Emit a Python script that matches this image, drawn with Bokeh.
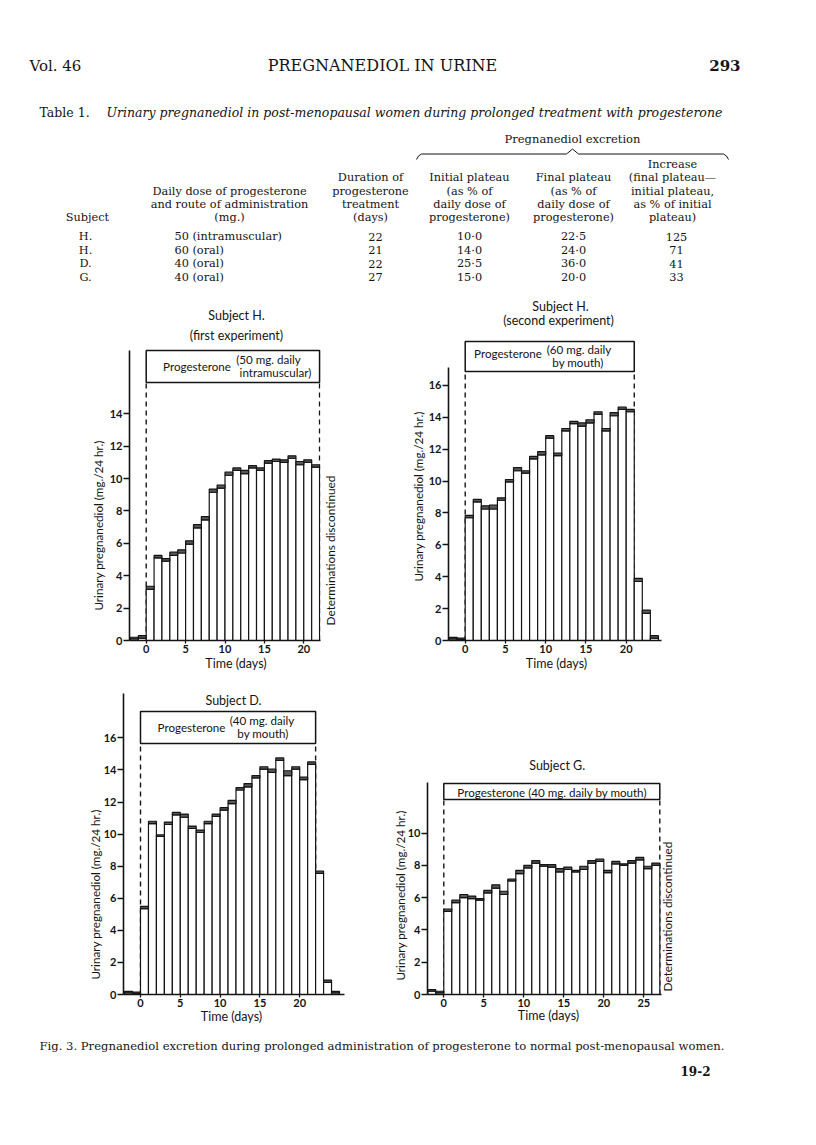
import math
from bokeh.plotting import figure
from bokeh.layouts import column, row
from bokeh.models import FixedTicker, Range1d
from bokeh.core.properties import value
from bokeh.embed import file_html
from bokeh.resources import INLINE

SERIF = "DejaVu Serif"
SANS = "Lato"
INK = "#141414"

# ---------------- Table 1 data ----------------
tbl_subject = ["H.", "H.", "D.", "G."]
tbl_dose = ["50 (intramuscular)", "60 (oral)", "40 (oral)", "40 (oral)"]
tbl_duration = ["22", "21", "22", "27"]
tbl_initial = ["10·0", "14·0", "25·5", "15·0"]
tbl_final = ["22·5", "24·0", "36·0", "20·0"]
tbl_increase = ["125", "71", "41", "33"]

hdr_subject = ["Subject"]
hdr_dose = ["Daily dose of progesterone", "and route of administration", "(mg.)"]
hdr_duration = ["Duration of", "progesterone", "treatment", "(days)"]
hdr_initial = ["Initial plateau", "(as % of", "daily dose of", "progesterone)"]
hdr_final = ["Final plateau", "(as % of", "daily dose of", "progesterone)"]
hdr_increase = ["Increase", "(final plateau\u2014", "initial plateau,", "as % of initial", "plateau)"]

# ---------------- Fig. 3 data (mg./24 hr.), duplicate determinations hi / lo ----------------
# Subject H. first experiment: days -2 .. 21
h1_start = -2
h1_hi = [0.2, 0.3, 3.35, 5.25, 5.05, 5.45, 5.6, 6.15, 7.15, 7.65, 9.35, 9.6, 10.4, 10.65,
         10.5, 10.8, 10.65, 11.1, 11.2, 11.15, 11.4, 11.05, 11.15, 10.85]
h1_lo = [0.1, 0.15, 3.15, 5.1, 4.9, 5.25, 5.4, 5.95, 6.95, 7.45, 9.15, 9.4, 10.2, 10.5,
         10.3, 10.65, 10.5, 10.95, 11.05, 11.0, 11.25, 10.85, 11.0, 10.7]
# Subject H. second experiment: days -2 .. 23
h2_start = -2
h2_hi = [0.2, 0.15, 7.85, 8.85, 8.45, 8.5, 8.95, 10.1, 10.85, 10.65, 11.55, 11.85, 12.85,
         11.75, 13.3, 13.75, 13.65, 13.85, 14.35, 13.3, 14.3, 14.65, 14.5, 3.9, 1.9, 0.3]
h2_lo = [0.1, 0.05, 7.7, 8.7, 8.25, 8.25, 8.8, 9.95, 10.65, 10.5, 11.4, 11.65, 12.7,
         11.6, 13.15, 13.6, 13.45, 13.65, 14.2, 13.15, 14.1, 14.5, 14.35, 3.7, 1.7, 0.15]
# Subject D.: days -2 .. 24
d_start = -2
d_hi = [0.2, 0.15, 5.5, 10.8, 9.95, 10.75, 11.35, 11.25, 10.5, 10.25, 10.8, 11.25, 11.65,
        12.1, 12.9, 13.15, 13.65, 14.2, 14.05, 14.75, 13.95, 14.2, 13.55, 14.5, 7.7, 0.9, 0.2]
d_lo = [0.1, 0.05, 5.35, 10.65, 9.85, 10.6, 11.2, 11.05, 10.35, 10.1, 10.65, 11.1, 11.5,
        11.9, 12.75, 12.95, 13.5, 14.05, 13.85, 14.6, 13.65, 14.05, 13.4, 14.35, 7.55, 0.75, 0.1]
# Subject G.: days -2 .. 26
g_start = -2
g_hi = [0.3, 0.2, 5.3, 5.85, 6.2, 6.1, 5.95, 6.45, 6.8, 6.4, 7.15, 7.7, 8.0, 8.3, 8.05,
        8.05, 7.8, 7.9, 7.7, 7.95, 8.3, 8.4, 7.7, 8.25, 8.1, 8.3, 8.5, 7.95, 8.15]
g_lo = [0.2, 0.1, 5.15, 5.7, 6.0, 5.95, 5.85, 6.3, 6.6, 6.2, 7.05, 7.5, 7.85, 8.15, 7.95,
        7.9, 7.6, 7.75, 7.6, 7.75, 8.15, 8.25, 7.55, 8.1, 8.0, 8.15, 8.35, 7.8, 8.0]

yticks_h1 = [0, 2, 4, 6, 8, 10, 12, 14]
yticks_h2 = [0, 2, 4, 6, 8, 10, 12, 14, 16]
yticks_d = [0, 2, 4, 6, 8, 10, 12, 14, 16]
yticks_g = [0, 2, 4, 6, 8, 10]
xticks_h1 = [0, 5, 10, 15, 20]
xticks_h2 = [0, 5, 10, 15, 20]
xticks_d = [0, 5, 10, 15, 20]
xticks_g = [0, 5, 10, 15, 20, 25]

Y_LABEL = "Urinary pregnanediol (mg./24 hr.)"
X_LABEL = "Time (days)"
DISC = "Determinations discontinued"

PAGE_W = 808


def style_blank(p):
    p.outline_line_color = None
    p.background_fill_color = "white"
    p.border_fill_color = "white"
    p.xgrid.visible = False
    p.ygrid.visible = False


def canvas(top_y, bottom_y):
    p = figure(width=PAGE_W, height=int(bottom_y - top_y), x_range=Range1d(0, PAGE_W),
               y_range=Range1d(bottom_y, top_y), x_axis_type=None, y_axis_type=None,
               toolbar_location=None, output_backend="svg", min_border=0)
    style_blank(p)
    return p


def put(p, x, y, txt, size, align="center", style="normal", font=SERIF):
    p.text(x=[x], y=[y], text=[txt], text_font=value(font), text_font_size=size,
           text_align=align, text_baseline="middle", text_font_style=style, text_color=INK)


# ---------------- page top: header and table ----------------
top = canvas(0, 296)
put(top, 29, 65, "Vol. 46", "15px", align="left")
put(top, 382, 65, "PREGNANEDIOL IN URINE", "16px")
put(top, 740, 65, "293", "15px", align="right", style="bold")
put(top, 39, 112, "Table 1.", "12.5px", align="left")
put(top, 106, 112, "Urinary pregnanediol in post-menopausal women during prolonged treatment with progesterone",
    "12.5px", align="left", style="italic")
put(top, 572, 138, "Pregnanediol excretion", "11.5px")
top.line(x=[416, 418, 421, 566, 572, 578, 723, 726, 728],
         y=[159, 155.5, 153.5, 153.5, 148.5, 153.5, 153.5, 155.5, 159], line_color=INK, line_width=1)

HS = "11.3px"
line_y = [164, 177.3, 190.6, 203.9, 217.2]
for i, t in enumerate(hdr_increase):
    put(top, 672, line_y[i], t, HS)
for i, t in enumerate(hdr_initial):
    put(top, 469, line_y[i + 1], t, HS)
for i, t in enumerate(hdr_final):
    put(top, 573, line_y[i + 1], t, HS)
for i, t in enumerate(hdr_duration):
    put(top, 370, line_y[i + 1], t, HS)
for i, t in enumerate(hdr_dose):
    put(top, 229, line_y[i + 2], t, HS)
put(top, 87, line_y[4], hdr_subject[0], HS)

row_y = [236, 249.5, 263, 276.5]
for i in range(4):
    put(top, 85, row_y[i], tbl_subject[i], HS)
    put(top, 174, row_y[i], tbl_dose[i], HS, align="left")
    put(top, 375, row_y[i], tbl_duration[i], HS)
    put(top, 469, row_y[i], tbl_initial[i], HS)
    put(top, 573, row_y[i], tbl_final[i], HS)
    put(top, 676, row_y[i], tbl_increase[i], HS)


# ---------------- charts ----------------
def make_chart(yticks, xticks, xgeom, ygeom, fig_left, fig_w, vrow, axis_top_px):
    x0, ppd, xs, xe = xgeom
    y0, ppu = ygeom
    fig_top, frame_top, frame_bot, fig_bot = vrow
    frame_w = int(round((xe - xs) * ppd))
    frame_h = frame_bot - frame_top
    mbl = int(round(x0 + xs * ppd - fig_left))
    mbr = fig_w - mbl - frame_w
    xs_a = (fig_left + mbl - x0) / ppd
    xe_a = xs_a + frame_w / ppd
    p = figure(frame_width=frame_w, frame_height=frame_h,
               x_range=Range1d(xs_a, xe_a), y_range=Range1d(0, frame_h / ppu),
               min_border_left=mbl, min_border_right=mbr,
               min_border_top=frame_top - fig_top, min_border_bottom=fig_bot - frame_bot,
               toolbar_location=None, output_backend="svg")
    style_blank(p)
    for ax in (p.xaxis[0], p.yaxis[0]):
        ax.axis_line_width = 1.6
        ax.axis_line_color = INK
        ax.major_tick_line_color = INK
        ax.major_tick_line_width = 1.3
        ax.minor_tick_line_color = None
        ax.major_tick_in = 0
        ax.major_label_text_font = SANS
        ax.major_label_text_font_style = "bold"
        ax.major_label_text_font_size = "11px"
        ax.major_label_text_color = INK
    p.yaxis[0].ticker = FixedTicker(ticks=yticks)
    p.xaxis[0].ticker = FixedTicker(ticks=xticks)
    p.yaxis[0].major_tick_out = 6
    p.yaxis[0].major_label_standoff = 1
    p.xaxis[0].major_tick_out = 3
    p.xaxis[0].major_label_standoff = 1
    p.yaxis[0].axis_line_color = None

    px2x = lambda px: (px - x0) / ppd
    px2y = lambda py: (frame_bot - py) / ppu
    # y axis line, only as tall as in the original
    p.segment(x0=[xs_a], y0=[0], x1=[xs_a], y1=[px2y(axis_top_px)], line_color=INK,
              line_width=1.6, level="overlay")
    return p, px2x, px2y


def draw_bars(p, hi, lo, start):
    days = [start + i for i in range(len(hi))]
    p.quad(left=days, right=[d + 1 for d in days], bottom=[0] * len(days), top=lo,
           fill_color="white", line_color=INK, line_width=1.2)
    p.quad(left=days, right=[d + 1 for d in days], bottom=lo, top=hi,
           fill_color="#5a5a5a", line_color=INK, line_width=1.2)


def progesterone_box(p, duration, y_bot, y_top):
    p.segment(x0=[0, duration], y0=[0, 0], x1=[0, duration], y1=[y_bot, y_bot],
              line_color=INK, line_width=1.4, line_dash="5 4")
    p.quad(left=[0], right=[duration], bottom=[y_bot], top=[y_top], fill_color="white",
           line_color=INK, line_width=1.5, level="overlay")


def lab(p, x, y, txt, size="12.5px", angle=0.0, style="normal"):
    p.text(x=[x], y=[y], text=[txt], angle=angle, text_font=value(SANS), text_font_size=size,
           text_align="center", text_baseline="middle", text_color=INK, text_font_style=style,
           level="overlay")


ROW1 = (296, 350, 640, 680)
ROW2 = (680, 693, 994, 1033)
BOX = "11.6px"
YL = "11.7px"

# Chart 1: Subject H. (first experiment)
dur1 = int(tbl_duration[0])
c1, fx, fy = make_chart(yticks_h1, xticks_h1, (145.7, 7.88, -2.08, 22.15), (640, 16.2),
                        0, 372, ROW1, 350)
progesterone_box(c1, dur1, fy(382), fy(350))
draw_bars(c1, h1_hi, h1_lo, h1_start)
lab(c1, fx(236), fy(315), "Subject H.")
lab(c1, fx(236), fy(335), "(first experiment)")
lab(c1, fx(196.5), fy(365.5), "Progesterone", BOX)
lab(c1, fx(268), fy(358.5), "(50 mg. daily", BOX)
lab(c1, fx(275), fy(372), "intramuscular)", BOX)
lab(c1, fx(97), fy(525), Y_LABEL, YL, angle=math.pi / 2)
lab(c1, fx(235.5), fy(663), X_LABEL)
lab(c1, fx(330), fy(550), DISC, size="11.8px", angle=math.pi / 2)

# Chart 2: Subject H. (second experiment)
dur2 = int(tbl_duration[1])
c2, fx, fy = make_chart(yticks_h2, xticks_h2, (464.7, 8.05, -2.04, 24.45), (640, 15.94),
                        372, PAGE_W - 372, ROW1, 367)
progesterone_box(c2, dur2, fy(371), fy(341))
draw_bars(c2, h2_hi, h2_lo, h2_start)
lab(c2, fx(560), fy(306), "Subject H.")
lab(c2, fx(558), fy(320), "(second experiment)")
lab(c2, fx(507.5), fy(353), "Progesterone", BOX)
lab(c2, fx(578.5), fy(348.5), "(60 mg. daily", BOX)
lab(c2, fx(577.5), fy(362.3), "by mouth)", BOX)
lab(c2, fx(417), fy(496), Y_LABEL, YL, angle=math.pi / 2)
lab(c2, fx(556), fy(663), X_LABEL)

# Chart 3: Subject D.
dur3 = int(tbl_duration[2])
c3, fx, fy = make_chart(yticks_d, xticks_d, (140.0, 7.96, -2.1, 25.7), (994, 16.04),
                        0, 372, ROW2, 693)
progesterone_box(c3, dur3, fy(743), fy(711))
draw_bars(c3, d_hi, d_lo, d_start)
lab(c3, fx(233), fy(700), "Subject D.")
lab(c3, fx(191), fy(727), "Progesterone", BOX)
lab(c3, fx(261.5), fy(719.5), "(40 mg. daily", BOX)
lab(c3, fx(262.5), fy(733.3), "by mouth)", BOX)
lab(c3, fx(94), fy(894), Y_LABEL, YL, angle=math.pi / 2)
lab(c3, fx(231), fy(1016), X_LABEL)

# Chart 4: Subject G.
dur4 = int(tbl_duration[3])
c4, fx, fy = make_chart(yticks_g, xticks_g, (443.3, 8.0, -2.05, 27.2), (994, 16.13),
                        372, PAGE_W - 372, ROW2, 782)
progesterone_box(c4, dur4, fy(799), fy(783))
draw_bars(c4, g_hi, g_lo, g_start)
lab(c4, fx(556.7), fy(765), "Subject G.")
lab(c4, fx(551.7), fy(791.5), "Progesterone (40 mg. daily by mouth)", BOX)
lab(c4, fx(399), fy(895), Y_LABEL, YL, angle=math.pi / 2)
lab(c4, fx(548), fy(1015), X_LABEL)
lab(c4, fx(667), fy(916), DISC, size="11.8px", angle=math.pi / 2)

# ---------------- caption ----------------
bottom = canvas(1033, 1090)
put(bottom, 39, 1045,
    "Fig. 3.  Pregnanediol excretion during prolonged administration of progesterone to normal post-menopausal women.",
    "11.6px", align="left")
put(bottom, 710, 1070, "19-2", "12px", align="right", style="bold")

layout = column(top, row(c1, c2), row(c3, c4), bottom)
open("out.html", "w").write(file_html(layout, INLINE))
